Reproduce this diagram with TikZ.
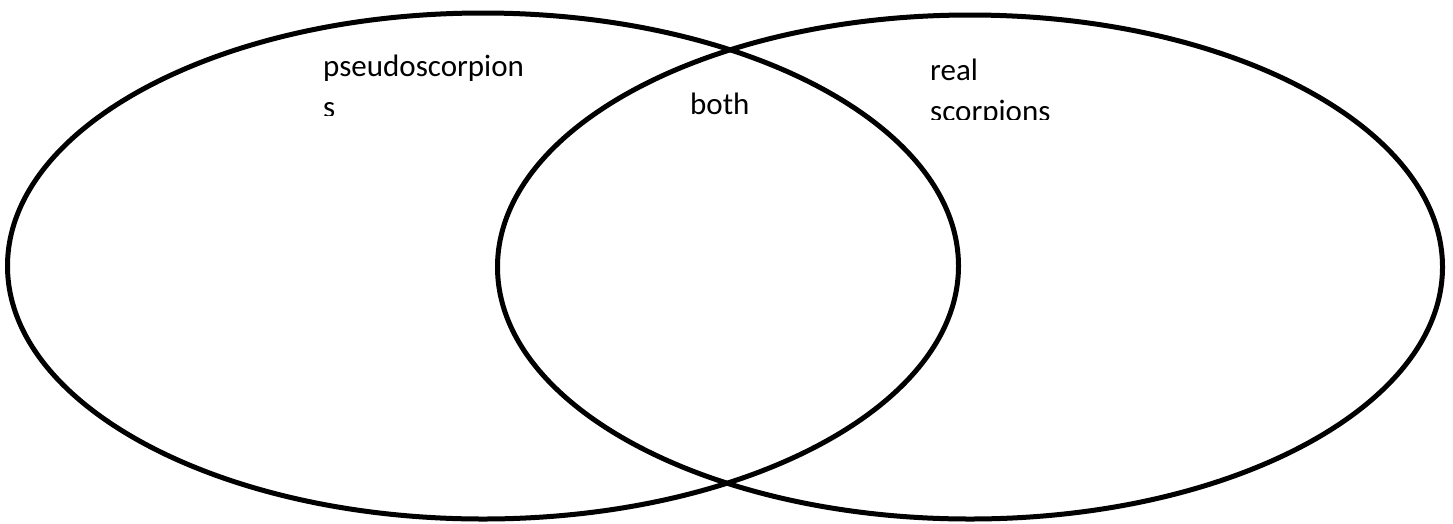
\documentclass[tikz,border=0pt]{standalone}
\usepackage{fontspec}
\setmainfont{Carlito}
\begin{document}
\begin{tikzpicture}[x=1pt,y=-1pt,
  venn/.style={draw=black,line width=5pt},
  lbl/.style={anchor=base west,inner sep=0pt,font=\fontsize{31}{37}\selectfont}]
\useasboundingbox (0,0) rectangle (1453,523);
\fill[white] (0,0) rectangle (1453,523);
\draw[venn] (483,266) ellipse [x radius=475.5,y radius=253];
\draw[venn] (970,267) ellipse [x radius=472.5,y radius=252];
\node[lbl] (pseudo) at (323,76) {pseudoscorpion};
\node[lbl] (both) at (690,114) {both};
\node[lbl] (real) at (930,80) {real};
\begin{scope}
\clip (300,90) rectangle (560,115);
\node[lbl] (pseudo2) at (323,117) {s};
\end{scope}
\begin{scope}
\clip (900,90) rectangle (1100,119);
\node[lbl] (real2) at (930,121) {scorpions};
\end{scope}
\end{tikzpicture}
\end{document}
